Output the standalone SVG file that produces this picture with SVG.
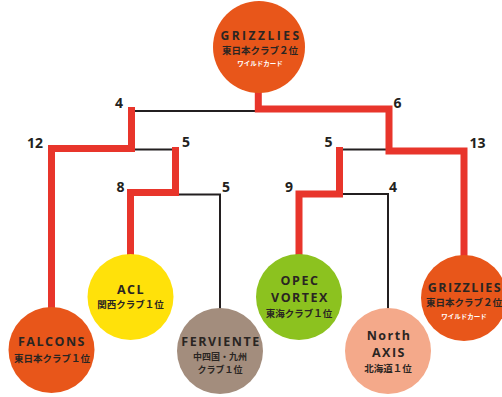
<svg xmlns="http://www.w3.org/2000/svg" width="502" height="397" viewBox="0 0 502 397">
<style>
.red{fill:none;stroke:#E8352B;stroke-width:7;stroke-linejoin:miter}
.blk{fill:none;stroke:#231F20;stroke-width:2}
.num{font-family:"Open Sans","Noto Sans",sans-serif;font-weight:bold;font-size:14px;fill:#231F20;text-anchor:middle}
.nm{font-family:"Open Sans","Noto Sans",sans-serif;font-weight:bold;font-size:12.5px;letter-spacing:1.5px;fill:#2A2522;text-anchor:middle}
.sb{font-family:"Noto Sans CJK JP",sans-serif;font-weight:bold;font-size:9.5px;fill:#2A2522;text-anchor:middle}
.sm{font-size:9px}
.wc{font-family:"Noto Sans CJK JP",sans-serif;font-weight:bold;font-size:6.5px;fill:#FFFFFF;text-anchor:middle}
</style>
<g id="connectors">
<path class="blk" d="M131.5,111 H258"/>
<path class="blk" d="M131.5,149.5 H175.5"/>
<path class="blk" d="M340.5,149.5 H389"/>
<path class="blk" d="M175.5,194.5 H220 V310"/>
<path class="blk" d="M340.5,194 H388 V310"/>
<path class="red" d="M51.5,310 V148.5 H131.5 V107"/>
<path class="red" d="M130.5,256 V192.5 H175.5 V147"/>
<path class="red" d="M299,256 V194 H339.5 V147"/>
<path class="red" d="M464,257 V151 H389 V109 H258.3 V86"/>
</g>
<g id="scores">
<text class="num" x="119" y="108">4</text>
<text class="num" x="397.5" y="108">6</text>
<text class="num" x="35" y="148">12</text>
<text class="num" x="186" y="147">5</text>
<text class="num" x="328.5" y="147">5</text>
<text class="num" x="477.5" y="148">13</text>
<text class="num" x="120.5" y="192">8</text>
<text class="num" x="226" y="192">5</text>
<text class="num" x="289" y="192">9</text>
<text class="num" x="393" y="192">4</text>
</g>
<g id="grizzlies-top">
<circle cx="259" cy="47" r="46" fill="#E8561A"/>
<text class="nm" x="261" y="40" style="font-size:12px;letter-spacing:2.5px">GRIZZLIES</text>
<text class="sb" x="260" y="54">東日本クラブ２位</text>
<text class="wc" x="260" y="66">ワイルドカード</text>
</g>
<g id="falcons">
<circle cx="51.5" cy="350" r="43" fill="#E8561A"/>
<text class="nm" x="52" y="346">FALCONS</text>
<text class="sb" x="52" y="362">東日本クラブ１位</text>
</g>
<g id="acl">
<circle cx="130.5" cy="297" r="43" fill="#FFE10A"/>
<text class="nm" x="131" y="294">ACL</text>
<text class="sb" x="130.5" y="308">関西クラブ１位</text>
</g>
<g id="ferviente">
<circle cx="220" cy="351" r="43" fill="#A38D7D"/>
<text class="nm" x="221" y="346">FERVIENTE</text>
<text class="sb sm" x="220" y="360">中四国・九州</text>
<text class="sb sm" x="220" y="373">クラブ１位</text>
</g>
<g id="opec-vortex">
<circle cx="299" cy="297" r="43" fill="#8CC21F"/>
<text class="nm" x="300" y="285">OPEC</text>
<text class="nm" x="300" y="302">VORTEX</text>
<text class="sb" x="299" y="317">東海クラブ１位</text>
</g>
<g id="north-axis">
<circle cx="388" cy="351" r="43" fill="#F4A98A"/>
<text class="nm" x="389" y="340">North</text>
<text class="nm" x="389" y="357">AXIS</text>
<text class="sb" x="388" y="372">北海道１位</text>
</g>
<g id="grizzlies-right">
<circle cx="464" cy="298" r="43" fill="#E8561A"/>
<text class="nm" x="465" y="292">GRIZZLIES</text>
<text class="sb" x="464" y="306">東日本クラブ２位</text>
<text class="wc" x="464" y="319">ワイルドカード</text>
</g>
</svg>
